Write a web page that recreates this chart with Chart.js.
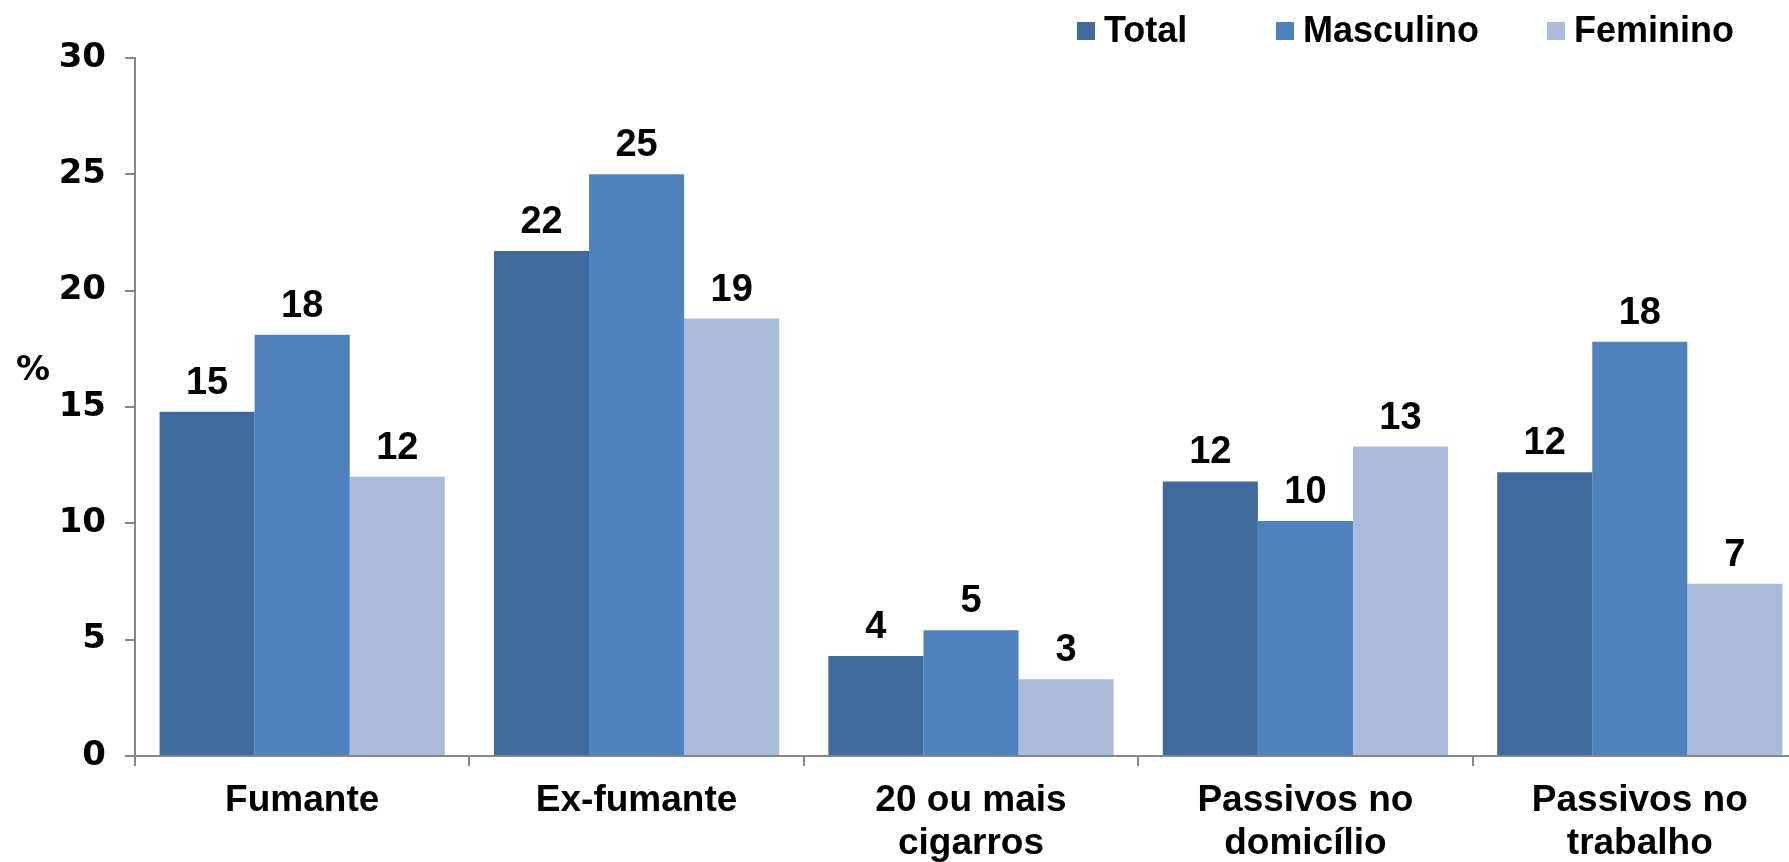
<!DOCTYPE html>
<html>
<head>
<meta charset="utf-8">
<script src="https://cdn.jsdelivr.net/npm/chart.js@4.4.0/dist/chart.umd.min.js"></script>
<style>
    html, body { margin: 0; padding: 0; background: #fff; overflow: hidden; }
    #wrap { width: 1830px; height: 862px; }
</style>
</head>
<body>
<div id="wrap"><canvas id="tabacoChart"></canvas></div>
<script>
// Data
const categories = ['Fumante', 'Ex-fumante', ['20 ou mais', 'cigarros'], ['Passivos no', 'domicílio'], ['Passivos no', 'trabalho']];
const seriesNames = ['Total', 'Masculino', 'Feminino'];
const totalValues = [14.8, 21.7, 4.3, 11.8, 12.2];
const masculinoValues = [18.1, 25.0, 5.4, 10.1, 17.8];
const femininoValues = [12.0, 18.8, 3.3, 13.3, 7.4];
const yTicks = [0, 5, 10, 15, 20, 25, 30];

const colors = ['#416A9C', '#4F81BD', '#ABBBD9'];
const axisGray = '#868686';
const labelFont = '"Liberation Sans", Arial, sans-serif';

// Value labels above each bar, plus the "%" title and the legend
const extrasPlugin = {
    id: 'extras',
    afterDatasetsDraw(chart) {
        const ctx = chart.ctx;
        ctx.save();
        ctx.fillStyle = '#000';
        ctx.textAlign = 'center';
        ctx.textBaseline = 'alphabetic';
        ctx.font = 'bold 38px "Liberation Sans Narrow", ' + labelFont;
        chart.data.datasets.forEach((ds, i) => {
            chart.getDatasetMeta(i).data.forEach((bar, j) => {
                ctx.fillText(Math.round(ds.data[j]).toString(), bar.x, bar.y - 18);
            });
        });

        // "%" axis title
        ctx.font = 'bold 34px "DejaVu Sans", sans-serif';
        ctx.textAlign = 'center';
        ctx.textBaseline = 'middle';
        ctx.fillText('%', 33, 371);

        // Legend
        const legendX = [1077, 1276, 1547];
        ctx.font = 'bold 36px ' + labelFont;
        ctx.textAlign = 'left';
        seriesNames.forEach((name, i) => {
            ctx.fillStyle = colors[i];
            ctx.fillRect(legendX[i], 22, 18, 18);
            ctx.fillStyle = '#000';
            ctx.fillText(name, legendX[i] + 27, 32);
        });
        ctx.restore();
    }
};

const ctx = document.getElementById('tabacoChart').getContext('2d');
const tabacoChart = new Chart(ctx, {
    type: 'bar',
    data: {
        labels: categories,
        datasets: [
            { label: seriesNames[0], data: totalValues, backgroundColor: colors[0] },
            { label: seriesNames[1], data: masculinoValues, backgroundColor: colors[1] },
            { label: seriesNames[2], data: femininoValues, backgroundColor: colors[2] }
        ].map(ds => Object.assign(ds, {
            categoryPercentage: 0.853,
            barPercentage: 1.0,
            borderWidth: 0
        }))
    },
    options: {
        responsive: true,
        maintainAspectRatio: false,
        animation: false,
        layout: {
            padding: { left: 0, right: 23, top: 58, bottom: 0 }
        },
        plugins: {
            legend: { display: false },
            tooltip: { enabled: false }
        },
        scales: {
            x: {
                grid: {
                    display: true,
                    drawOnChartArea: false,
                    drawTicks: true,
                    tickLength: 10,
                    color: axisGray,
                    lineWidth: 2
                },
                border: { color: axisGray, width: 2 },
                ticks: {
                    color: '#000',
                    font: { family: labelFont, size: 37, weight: 'bold', lineHeight: 1.17 },
                    padding: 13,
                    maxRotation: 0,
                    autoSkip: false
                },
                afterFit(scale) {
                    scale.height = 106;
                }
            },
            y: {
                min: 0,
                max: 30,
                afterBuildTicks(scale) {
                    scale.ticks = yTicks.map(v => ({ value: v }));
                },
                grid: {
                    display: true,
                    drawOnChartArea: false,
                    drawTicks: true,
                    tickLength: 10,
                    color: axisGray,
                    lineWidth: 2
                },
                border: { color: axisGray, width: 2 },
                ticks: {
                    color: '#000',
                    font: { family: '"DejaVu Sans", sans-serif', size: 34, weight: 'bold' },
                    padding: 19
                },
                afterFit(scale) {
                    scale.width = 135;
                }
            }
        }
    },
    plugins: [extrasPlugin]
});
</script>
</body>
</html>
